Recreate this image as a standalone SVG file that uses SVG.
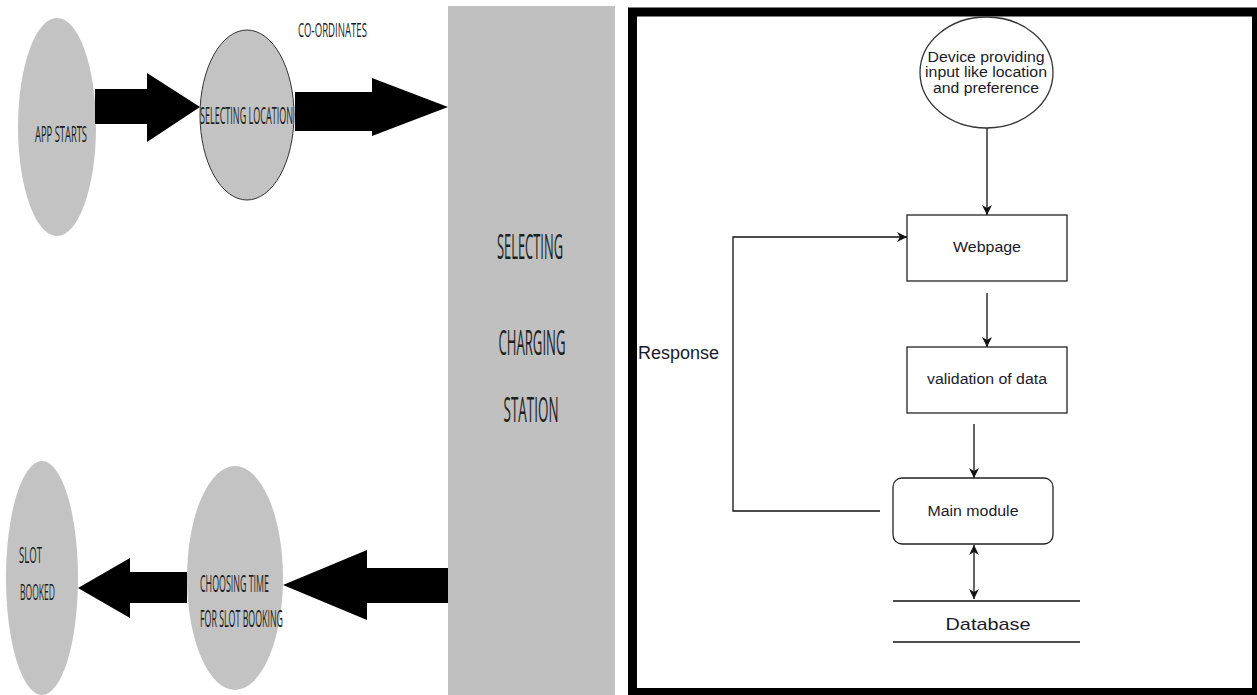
<svg xmlns="http://www.w3.org/2000/svg" width="1257" height="695" viewBox="0 0 1257 695">
<style>
.cond{font-family:"Open Sans","Liberation Sans",sans-serif;fill:#1e1e1e;}
.mid{text-anchor:middle;}
.gray{fill:#c3c3c3;}
.blk{fill:#000;}
.rt{font-family:"Liberation Sans",Arial,sans-serif;fill:#1a1a2a;text-anchor:middle;}
.box{fill:#fff;stroke:#222;stroke-width:1.3;}
.ln{fill:none;stroke:#111;stroke-width:1.3;}
</style>
<defs>
<marker id="ah" viewBox="0 0 10 10" refX="10" refY="5" markerWidth="10" markerHeight="10" markerUnits="userSpaceOnUse" orient="auto-start-reverse">
<path d="M0,0 L10,5 L0,10 L3,5 Z" fill="#111"/>
</marker>
</defs>
<rect width="1257" height="695" fill="#fff"/>

<g id="selecting-charging-station">
<rect x="448" y="6" width="167" height="689" fill="#c0c0c0"/>
<text class="cond mid" transform="translate(530,259) scale(0.4,1)" font-size="34" textLength="165" lengthAdjust="spacingAndGlyphs">SELECTING</text>
<text class="cond mid" transform="translate(532,355) scale(0.4,1)" font-size="34" textLength="167.5" lengthAdjust="spacingAndGlyphs">CHARGING</text>
<text class="cond mid" transform="translate(531,422) scale(0.4,1)" font-size="34" textLength="137.5" lengthAdjust="spacingAndGlyphs">STATION</text>
</g>

<g id="app-starts">
<ellipse class="gray" cx="57" cy="127" rx="39" ry="109"/>
<text class="cond" transform="translate(35,142) scale(0.4,1)" font-size="21" textLength="130" lengthAdjust="spacingAndGlyphs">APP STARTS</text>
</g>

<g id="selecting-location">
<ellipse class="gray" cx="247" cy="115" rx="47" ry="85" stroke="#333" stroke-width="1"/>
<text class="cond" transform="translate(200,124) scale(0.4,1)" font-size="23" textLength="232.5" lengthAdjust="spacingAndGlyphs">SELECTING LOCATION</text>
</g>

<g id="co-ordinates-label">
<text class="cond" transform="translate(298,37) scale(0.4,1)" font-size="20" textLength="172.5" lengthAdjust="spacingAndGlyphs">CO-ORDINATES</text>
</g>

<g id="slot-booked">
<ellipse class="gray" cx="42" cy="578" rx="36" ry="117"/>
<text class="cond" transform="translate(19,563) scale(0.4,1)" font-size="22" textLength="57.5" lengthAdjust="spacingAndGlyphs">SLOT</text>
<text class="cond" transform="translate(20,600) scale(0.4,1)" font-size="22" textLength="87.5" lengthAdjust="spacingAndGlyphs">BOOKED</text>
</g>

<g id="choosing-time">
<ellipse class="gray" cx="235" cy="578" rx="48" ry="112"/>
<text class="cond" transform="translate(200,592) scale(0.4,1)" font-size="23" textLength="172.5" lengthAdjust="spacingAndGlyphs">CHOOSING TIME</text>
<text class="cond" transform="translate(200,627) scale(0.4,1)" font-size="23" textLength="207.5" lengthAdjust="spacingAndGlyphs">FOR SLOT BOOKING</text>
</g>

<g id="block-arrows">
<polygon class="blk" points="95,89 147,89 147,73 200,107 147,142 147,124 95,124"/>
<polygon class="blk" points="295,92 372,92 372,78 448,107 372,136 372,131 295,131"/>
<polygon class="blk" points="448,568 367,568 367,550 283,585 367,620 367,603 448,603"/>
<polygon class="blk" points="187,572 130,572 130,558 78,588 130,618 130,603 187,603"/>
</g>

<g id="panel-border">
<rect x="632.5" y="12" width="624" height="680.5" fill="none" stroke="#000" stroke-width="9"/>
</g>

<g id="device">
<ellipse cx="986.5" cy="72.5" rx="66.5" ry="55.5" fill="#fff" stroke="#333" stroke-width="1.3"/>
<text class="rt" x="986" y="62" font-size="14" textLength="117" lengthAdjust="spacingAndGlyphs">Device providing</text>
<text class="rt" x="986" y="77" font-size="14" textLength="122" lengthAdjust="spacingAndGlyphs">input like location</text>
<text class="rt" x="986" y="93" font-size="14" textLength="106" lengthAdjust="spacingAndGlyphs">and preference</text>
</g>

<g id="webpage">
<rect class="box" x="907" y="215" width="160" height="66"/>
<text class="rt" x="987" y="252" font-size="14" textLength="68" lengthAdjust="spacingAndGlyphs">Webpage</text>
</g>

<g id="validation">
<rect class="box" x="907" y="347" width="160" height="66"/>
<text class="rt" x="987" y="384" font-size="14" textLength="120" lengthAdjust="spacingAndGlyphs">validation of data</text>
</g>

<g id="main-module">
<rect class="box" x="893" y="478" width="160" height="66" rx="9" ry="9"/>
<text class="rt" x="973" y="516" font-size="14" textLength="91" lengthAdjust="spacingAndGlyphs">Main module</text>
</g>

<g id="database">
<line class="ln" x1="893" y1="601" x2="1080" y2="601"/>
<line class="ln" x1="893" y1="642" x2="1080" y2="642"/>
<text class="rt" x="988" y="630" font-size="17" textLength="85" lengthAdjust="spacingAndGlyphs">Database</text>
</g>

<g id="connectors">
<line class="ln" x1="987" y1="128" x2="987" y2="215" marker-end="url(#ah)"/>
<line class="ln" x1="987" y1="293" x2="987" y2="347" marker-end="url(#ah)"/>
<line class="ln" x1="974" y1="424" x2="974" y2="478" marker-end="url(#ah)"/>
<line class="ln" x1="974" y1="545" x2="974" y2="599" marker-start="url(#ah)" marker-end="url(#ah)"/>
<polyline class="ln" points="880,511 733,511 733,237 907,237" marker-end="url(#ah)"/>
</g>

<g id="response-label">
<text x="638" y="359" font-family="Liberation Sans, Arial, sans-serif" font-size="18" fill="#1a1a2a">Response</text>
</g>
</svg>
